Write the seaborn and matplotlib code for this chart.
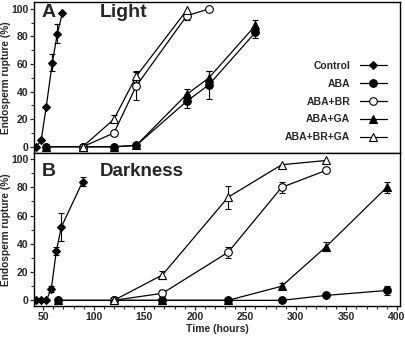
import numpy as np
import pandas as pd
import matplotlib
matplotlib.use("Agg")
import matplotlib.pyplot as plt
import seaborn as sns
from matplotlib.ticker import MultipleLocator

# ---- Light (panel A) ----
light_ctrl_t = [43, 48, 53, 59, 64, 69]
light_ctrl_v = [0, 4.6, 29, 61, 82, 97]
light_ctrl_e = [0, 0, 0, 6, 7, 0]

light_aba_t = [53, 89, 120, 142, 192, 214, 260]
light_aba_v = [0, 0, 0, 1, 33, 45, 83]
light_aba_e = [0, 0, 0, 1, 5, 10, 4]

light_br_t = [89, 120, 142, 192, 214]
light_br_v = [0, 10, 44, 95, 100]
light_br_e = [0, 2, 10, 3, 0]

light_ga_t = [53, 89, 120, 142, 192, 214, 260]
light_ga_v = [0, 0, 0, 1, 38, 50, 88]
light_ga_e = [0, 0, 0, 1, 4, 5, 4]

light_brga_t = [89, 120, 142, 192]
light_brga_v = [0, 20, 51, 99]
light_brga_e = [0, 3, 4, 0]

# ---- Darkness (panel B) ----
dark_ctrl_t = [43, 48, 53, 58, 63, 68, 89]
dark_ctrl_v = [0, 0, 0, 8, 35, 52, 84]
dark_ctrl_e = [0, 0, 0, 2, 3, 10, 3]

dark_aba_t = [65, 120, 168, 233, 286, 330, 390]
dark_aba_v = [0, 0, 0, 0, 0, 3.5, 7]
dark_aba_e = [0, 0, 0, 0, 0, 1, 3]

dark_br_t = [120, 168, 233, 286, 330]
dark_br_v = [0, 5, 34, 80, 92]
dark_br_e = [0, 2, 4, 4, 0]

dark_ga_t = [65, 120, 168, 233, 286, 330, 390]
dark_ga_v = [0, 0, 0, 0, 10, 38, 80]
dark_ga_e = [0, 0, 0, 0, 2, 3, 4]

dark_brga_t = [120, 168, 233, 286, 330]
dark_brga_v = [0, 18, 73, 96, 99]
dark_brga_e = [0, 3, 8, 0, 0]

labels = ["Control", "ABA", "ABA+BR", "ABA+GA", "ABA+BR+GA"]
styles = {
    "Control":   dict(marker="D", ms=4.2, mfc="black"),
    "ABA":       dict(marker="o", ms=5.5, mfc="black"),
    "ABA+BR":    dict(marker="o", ms=5.5, mfc="white"),
    "ABA+GA":    dict(marker="^", ms=5.5, mfc="black"),
    "ABA+BR+GA": dict(marker="^", ms=5.5, mfc="white"),
}

light = {
    "Control": (light_ctrl_t, light_ctrl_v, light_ctrl_e),
    "ABA": (light_aba_t, light_aba_v, light_aba_e),
    "ABA+BR": (light_br_t, light_br_v, light_br_e),
    "ABA+GA": (light_ga_t, light_ga_v, light_ga_e),
    "ABA+BR+GA": (light_brga_t, light_brga_v, light_brga_e),
}
dark = {
    "Control": (dark_ctrl_t, dark_ctrl_v, dark_ctrl_e),
    "ABA": (dark_aba_t, dark_aba_v, dark_aba_e),
    "ABA+BR": (dark_br_t, dark_br_v, dark_br_e),
    "ABA+GA": (dark_ga_t, dark_ga_v, dark_ga_e),
    "ABA+BR+GA": (dark_brga_t, dark_brga_v, dark_brga_e),
}

sns.set_theme(style="ticks")
plt.rcParams["font.family"] = ["Liberation Sans", "DejaVu Sans"]
plt.rcParams["font.weight"] = "bold"
plt.rcParams["axes.labelweight"] = "bold"

fig = plt.figure(figsize=(4.06, 3.37), dpi=100)
ax_a = fig.add_axes([0.084, 0.546, 0.901, 0.448])
ax_b = fig.add_axes([0.084, 0.092, 0.901, 0.454])


def draw(ax, series):
    for name in labels:
        t, v, e = series[name]
        df = pd.DataFrame({"t": t, "v": v})
        st = styles[name]
        sns.lineplot(data=df, x="t", y="v", ax=ax, color="black", lw=0.9,
                     marker=st["marker"], markersize=st["ms"],
                     markerfacecolor=st["mfc"], markeredgecolor="black",
                     markeredgewidth=0.8, label=name, legend=False, zorder=3)
        err = np.array(e, dtype=float)
        mask = err > 0
        ax.errorbar(np.array(t)[mask], np.array(v)[mask], yerr=err[mask],
                    fmt="none", ecolor="black", elinewidth=0.8,
                    capsize=2.5, capthick=0.8, zorder=2)


for ax, series in ((ax_a, light), (ax_b, dark)):
    draw(ax, series)
    ax.set_xlim(41, 403)
    ax.xaxis.set_major_locator(MultipleLocator(50))
    ax.xaxis.set_minor_locator(MultipleLocator(10))
    ax.yaxis.set_major_locator(MultipleLocator(20))
    ax.yaxis.set_minor_locator(MultipleLocator(10))
    ax.tick_params(axis="both", which="major", direction="out", length=3,
                   width=0.9, labelsize=7.5, pad=1)
    ax.tick_params(axis="both", which="minor", direction="out", length=2,
                   width=0.8)
    for lab in ax.get_yticklabels() + ax.get_xticklabels():
        lab.set_fontweight("bold")
    ax.set_ylabel("Endosperm rupture (%)", fontsize=7.3, fontweight="bold",
                  labelpad=0.5)
    for sp in ax.spines.values():
        sp.set_visible(True)
        sp.set_linewidth(1.0)
        sp.set_color("black")

ax_a.set_ylim(-4.5, 105)
ax_b.set_ylim(-4, 104.3)
ax_a.set_xlabel("")
ax_a.tick_params(axis="x", labelbottom=False)
ax_b.set_xlabel("Time (hours)", fontsize=7.5, fontweight="bold", labelpad=2)

ax_a.text(0.02, 0.93, "A", transform=ax_a.transAxes, fontsize=14,
          fontweight="bold", va="center", ha="left")
ax_a.text(0.18, 0.93, "Light", transform=ax_a.transAxes, fontsize=14,
          fontweight="bold", va="center", ha="left")
ax_b.text(0.02, 0.88, "B", transform=ax_b.transAxes, fontsize=14,
          fontweight="bold", va="center", ha="left")
ax_b.text(0.18, 0.88, "Darkness", transform=ax_b.transAxes, fontsize=13.5,
          fontweight="bold", va="center", ha="left")

leg = ax_a.legend(loc="center right", bbox_to_anchor=(0.975, 0.34),
                  frameon=False, markerfirst=False, fontsize=7.5,
                  handlelength=2.6, labelspacing=0.75, handletextpad=0.9,
                  borderaxespad=0)
for txt in leg.get_texts():
    txt.set_fontweight("bold")

fig.savefig("out.png", dpi=100)
